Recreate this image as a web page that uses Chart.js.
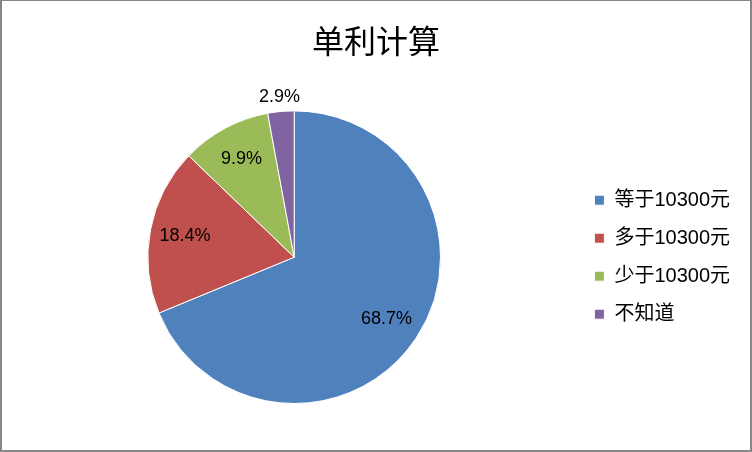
<!DOCTYPE html>
<html>
<head>
<meta charset="utf-8">
<script src="https://cdn.jsdelivr.net/npm/chart.js@4/dist/chart.umd.min.js"></script>
<style>
    body { margin: 0; background: #fff; }
    #caixa { position: relative; width: 752px; height: 452px; }
    #borda {
        position: absolute; left: 0; top: 0; width: 752px; height: 452px;
        box-sizing: border-box; border: 2px solid #868686; border-top-width: 1px;
        pointer-events: none;
    }
</style>
</head>
<body>
<div id="caixa">
    <canvas id="graficoPizza" width="752" height="452"></canvas>
    <div id="borda"></div>
</div>
<script>
const categorias = ['等于10300元', '多于10300元', '少于10300元', '不知道'];
const percentuais = [68.7, 18.4, 9.9, 2.9];
const cores = ['#4F81BD', '#C0504D', '#9BBB59', '#8064A2'];

const fonte = '"Liberation Sans", "Noto Sans CJK SC", sans-serif';
const fonteTitulo = '"Noto Sans CJK SC", sans-serif';

// rótulos de porcentagem dentro das fatias (fora quando a fatia é pequena)
const rotulosPizza = {
    id: 'rotulosPizza',
    afterDatasetsDraw(grafico) {
        const ctx = grafico.ctx;
        const meta = grafico.getDatasetMeta(0);
        ctx.save();
        ctx.font = '18px ' + fonte;
        ctx.fillStyle = '#000';
        ctx.textAlign = 'center';
        ctx.textBaseline = 'middle';
        meta.data.forEach((arco, i) => {
            const valor = percentuais[i];
            const meio = (arco.startAngle + arco.endAngle) / 2;
            let raio = arco.outerRadius * 0.76;
            if (valor < 5) {
                raio = arco.outerRadius + 15;
            }
            const x = arco.x + Math.cos(meio) * raio;
            const y = arco.y + Math.sin(meio) * raio;
            ctx.fillText(valor.toFixed(1) + '%', x, y);
        });
        ctx.restore();
    }
};

const graficoPizza = document.getElementById('graficoPizza');
const graficoJuros = new Chart(graficoPizza, {
    type: 'pie',
    data: {
        labels: categorias,
        datasets: [{
            data: percentuais,
            backgroundColor: cores,
            borderColor: '#ffffff',
            borderWidth: 1
        }]
    },
    options: {
        responsive: false,
        animation: false,
        layout: {
            padding: { left: 12, right: 12, top: 0, bottom: 48 }
        },
        plugins: {
            title: {
                display: true,
                text: '单利计算',
                color: '#000',
                font: { family: fonteTitulo, size: 32, weight: 'normal' },
                padding: { top: 22, bottom: 50 }
            },
            legend: {
                position: 'right',
                fullSize: false,
                labels: {
                    boxWidth: 10,
                    boxHeight: 10,
                    padding: 18,
                    color: '#000',
                    font: { family: fonte, size: 20 }
                }
            },
            tooltip: { enabled: false }
        }
    },
    plugins: [rotulosPizza]
});
</script>
</body>
</html>
